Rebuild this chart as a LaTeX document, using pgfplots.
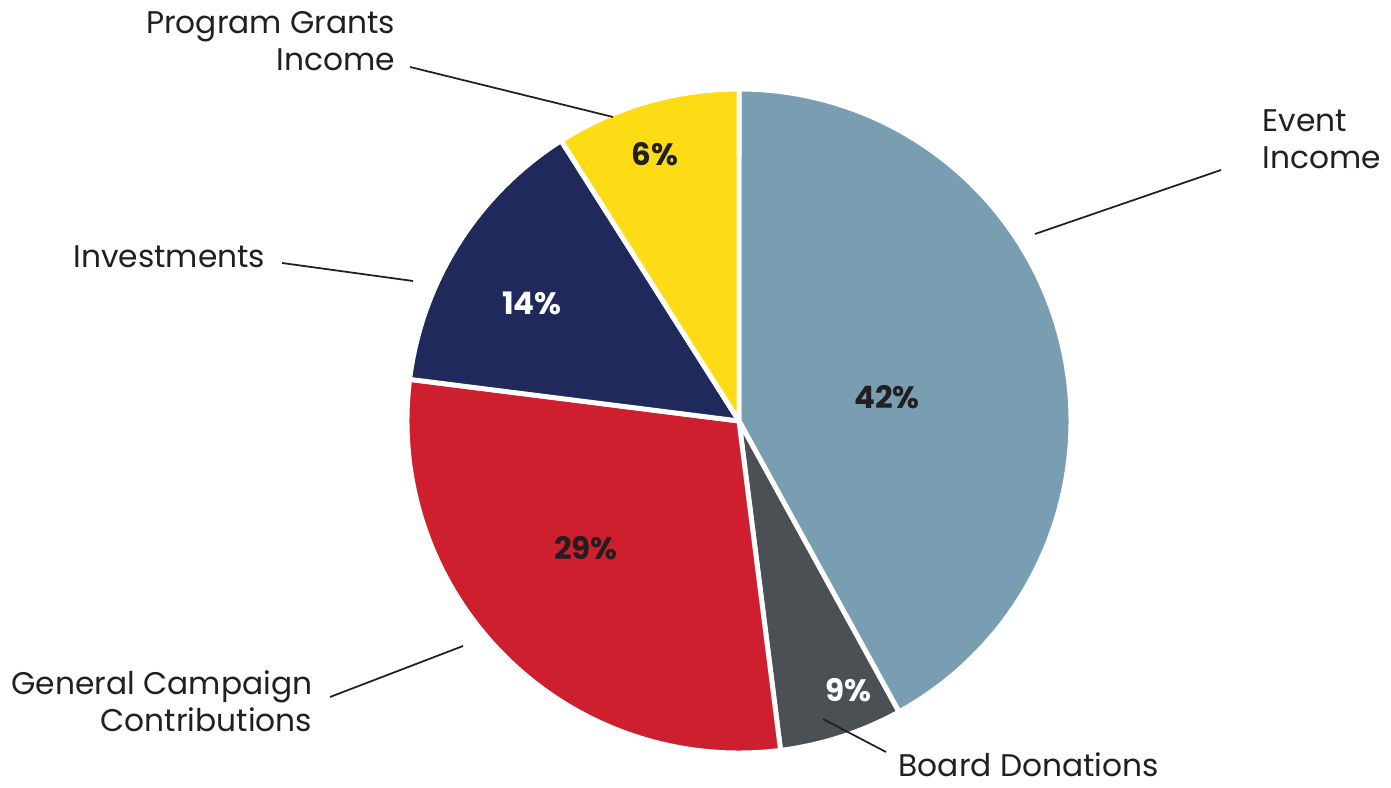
\documentclass[border=0pt]{standalone}
\usepackage{pgfplots}
\pgfplotsset{compat=1.18}
\usepackage{fontspec}
\setmainfont{Poppins}

\definecolor{evt}{HTML}{7A9EB1}
\definecolor{brd}{HTML}{4B5054}
\definecolor{gen}{HTML}{CE1F2F}
\definecolor{inv}{HTML}{20295B}
\definecolor{prg}{HTML}{FDDC16}
\definecolor{txt}{HTML}{231F20}

% slice shares in percent (clockwise from 12 o'clock), as drawn
% Event 42, Board 6, General 29, Investments 14, Program 9
\newcommand{\slice}[3]{% #1 = cumulative start, #2 = cumulative end, #3 = colour
  \pgfmathsetmacro{\angA}{90-3.6*#2}
  \pgfmathsetmacro{\angB}{90-3.6*#1}
  \addplot[fill=#3, draw=white, line width=1.4pt, line join=round,
    domain=\angA:\angB, samples=90, variable=\t]
    ({739+332*cos(\t)},{367+332*sin(\t)}) -- (axis cs:739,367) -- cycle;
}

\begin{document}
\begin{tikzpicture}
\begin{axis}[
    scale only axis,
    width=13.91cm, height=7.88cm,
    xmin=0, xmax=1391, ymin=0, ymax=788,
    hide axis, clip=false,
]
  \addplot[draw=none] coordinates {(0,0) (1391,788)};

  \slice{0}{42}{evt}
  \slice{42}{48}{brd}
  \slice{48}{77}{gen}
  \slice{77}{91}{inv}
  \slice{91}{100}{prg}

  % leader lines
  \addplot[txt, line width=0.5pt] coordinates {(410,721) (613,671)};
  \addplot[txt, line width=0.5pt] coordinates {(1221,618) (1035,554)};
  \addplot[txt, line width=0.5pt] coordinates {(282,525) (413,507)};
  \addplot[txt, line width=0.5pt] coordinates {(330,91) (463,142)};
  \addplot[txt, line width=0.5pt] coordinates {(823,69) (886,36)};

  % category labels
  \tikzset{lab/.style={font=\fontsize{8.9}{10}\selectfont, text=txt, inner sep=0pt}}
  \node[lab, anchor=base east] at (axis cs:396,754) {Program Grants};
  \node[lab, anchor=base east] at (axis cs:396,717) {Income};
  \node[lab, anchor=base west] at (axis cs:1262,656) {Event};
  \node[lab, anchor=base west] at (axis cs:1262,619) {Income};
  \node[lab, anchor=base east] at (axis cs:266,520) {Investments};
  \node[lab, anchor=base east] at (axis cs:313,93) {General Campaign};
  \node[lab, anchor=base east] at (axis cs:313,56) {Contributions};
  \node[lab, anchor=base west] at (axis cs:898,11) {Board Donations};

  % percentage labels
  \tikzset{pct/.style={font=\bfseries\fontsize{8.8}{10}\selectfont, inner sep=0pt}}
  \node[pct, text=txt] at (axis cs:887,391) {42\%};
  \node[pct, text=white] at (axis cs:848,98) {9\%};
  \node[pct, text=txt] at (axis cs:586,240) {29\%};
  \node[pct, text=white] at (axis cs:532,485) {14\%};
  \node[pct, text=txt] at (axis cs:655,634) {6\%};
\end{axis}
\end{tikzpicture}
\end{document}
